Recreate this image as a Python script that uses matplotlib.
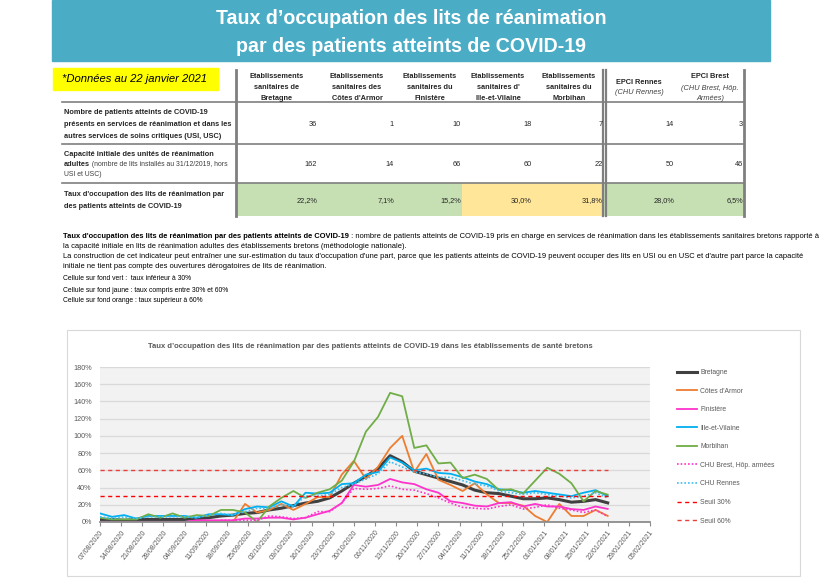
import matplotlib
matplotlib.use('Agg')
import matplotlib.pyplot as plt
import matplotlib.patches as patches
from matplotlib import font_manager
import pandas as pd

W, H = 820, 579

avail = {f.name for f in font_manager.fontManager.ttflist}
if 'Liberation Sans Narrow' in avail:
    NARROW, k = 'Liberation Sans Narrow', 1.0
else:
    NARROW, k = 'Liberation Sans', 0.84
plt.rcParams['font.family'] = [NARROW, 'DejaVu Sans']

# ---- table data (22/01/2021)
columns = [
    ['Etablissements', 'sanitaires de', 'Bretagne'],
    ['Etablissements', 'sanitaires des', "Côtes d'Armor"],
    ['Etablissements', 'sanitaires du', 'Finistère'],
    ['Etablissements', "sanitaires d'", 'Ille-et-Vilaine'],
    ['Etablissements', 'sanitaires du', 'Morbihan'],
]
patients = [36, 1, 10, 18, 7, 14, 3]
capacite = [162, 14, 66, 60, 22, 50, 46]
taux = [22.2, 7.1, 15.2, 30.0, 31.8, 28.0, 6.5]

# ---- chart data (one reading every 4 days from 07/08/2020)
sample_dates = pd.date_range('2020-08-07', '2021-01-22', freq='4D')
bretagne = [3, 3, 2, 3, 3, 3, 3, 3, 4, 5, 7, 8, 10, 11, 14, 16, 19, 22, 24, 28,
            36, 45, 53, 62, 77, 70, 59, 55, 51, 47, 43, 37, 34, 33, 30, 27, 27, 28, 26, 23,
            24, 26, 22.2]
cotes = [0, 0, 0, 0, 0, 0, 0, 0, 0, 0, 0, 0, 21, 11, 14, 21, 14, 21, 29, 29,
         55, 71, 50, 64, 86, 100, 58, 79, 49, 43, 36, 45, 32, 22, 22, 19, 7, 0, 21, 7,
         7, 14, 7.1]
finistere = [0, 0, 0, 0, 0, 0, 0, 0, 2, 2, 2, 2, 4, 4, 5, 5, 3, 5, 9, 13,
             22, 43, 41, 43, 50, 46, 44, 38, 34, 24, 22, 19, 18, 22, 23, 18, 21, 18, 18, 15,
             14, 18, 15.2]
ille = [10, 6, 8, 4, 7, 7, 7, 7, 5, 9, 9, 8, 15, 18, 17, 24, 18, 34, 33, 34,
        44, 45, 55, 58, 75, 69, 60, 62, 57, 56, 52, 47, 44, 38, 37, 34, 36, 34, 32, 30,
        34, 37, 30.0]
morbihan = [5, 3, 3, 3, 9, 5, 10, 5, 8, 7, 14, 14, 11, 0, 18, 28, 36, 28, 34, 38,
            48, 70, 105, 122, 150, 146, 86, 89, 68, 69, 51, 55, 50, 37, 38, 33, 48, 63, 56, 45,
            24, 36, 31.8]
chu_brest = [0, 0, 0, 0, 0, 0, 0, 0, 0, 0, 2, 2, 2, 2, 7, 6, 4, 5, 12, 12,
             22, 39, 38, 39, 42, 38, 37, 33, 28, 22, 17, 16, 15, 18, 20, 15, 17, 20, 16, 14,
             11, 14, 6.5]
chu_rennes = [6, 4, 6, 4, 6, 6, 6, 6, 5, 8, 10, 8, 12, 16, 16, 20, 18, 30, 30, 32,
              40, 44, 50, 56, 70, 64, 58, 56, 52, 52, 48, 44, 42, 36, 34, 32, 34, 32, 30, 28,
              30, 34, 28.0]
tick_labels = ['07/08/2020', '14/08/2020', '21/08/2020', '28/08/2020', '04/09/2020',
               '11/09/2020', '18/09/2020', '25/09/2020', '02/10/2020', '09/10/2020',
               '16/10/2020', '23/10/2020', '30/10/2020', '06/11/2020', '13/11/2020',
               '20/11/2020', '27/11/2020', '04/12/2020', '11/12/2020', '18/12/2020',
               '25/12/2020', '01/01/2021', '08/01/2021', '15/01/2021', '22/01/2021',
               '29/01/2021', '05/02/2021']

fig = plt.figure(figsize=(8.2, 5.79), dpi=100)
bg = fig.add_axes([0, 0, 1, 1])
bg.set_xlim(0, W)
bg.set_ylim(H, 0)
bg.axis('off')

# banner
bg.add_patch(patches.Rectangle((52, 0), 718, 61, color='#4BACC6'))
bg.text(411, 19, 'Taux d’occupation des lits de réanimation', color='white',
        fontsize=16.8 * k, fontweight='bold', ha='center', va='center')
bg.text(411, 46, 'par des patients atteints de COVID-19', color='white',
        fontsize=16.8 * k, fontweight='bold', ha='center', va='center')

# date box
bg.add_patch(patches.Rectangle((53, 68), 165, 22, color='#FFFF00'))
bg.text(62, 79.5, '*Données au 22 janvier 2021', family='Liberation Sans',
        style='italic', fontsize=8.1, ha='left', va='center')

# table
edges = [236, 317, 397, 462, 533, 604, 675, 744]
for i, t in enumerate(taux):
    c = '#C6E0B4' if t < 30 else ('#FFE699' if t < 60 else '#F8CBAD')
    bg.add_patch(patches.Rectangle((edges[i], 183), edges[i + 1] - edges[i], 33, color=c, lw=0))

for y in [102, 144, 183]:
    bg.plot([62, 744], [y, y], color='#7F7F7F', lw=1.2)
for x in [236, 603, 606, 744]:
    bg.plot([x, x], [70, 216], color='#7F7F7F', lw=1.6 if x in (603, 606) else 2)

fs = 6.3 * k
centers = [277, 357, 430, 498, 569]
for cx, lines in zip(centers, columns):
    for j, s in enumerate(lines):
        bg.text(cx, 77 + j * 10.7, s, fontsize=fs, fontweight='bold', ha='center',
                va='center', color='#262626')
bg.text(639, 82, 'EPCI Rennes', fontsize=fs, fontweight='bold', ha='center', va='center', color='#262626')
bg.text(639, 93, '(CHU Rennes)', fontsize=fs, style='italic', ha='center', va='center', color='#404040')
bg.text(710, 77, 'EPCI Brest', fontsize=fs, fontweight='bold', ha='center', va='center', color='#262626')
bg.text(710, 88, '(CHU Brest, Hôp.', fontsize=fs, style='italic', ha='center', va='center', color='#404040')
bg.text(710, 98.5, 'Armées)', fontsize=fs, style='italic', ha='center', va='center', color='#404040')

row1 = ['Nombre de patients atteints de COVID-19',
        'présents en services de réanimation et dans les',
        'autres services de soins critiques (USI, USC)']
for j, s in enumerate(row1):
    bg.text(64, 113 + j * 11.5, s, fontsize=fs, fontweight='bold', va='center', color='#262626')
bg.text(64, 154, 'Capacité initiale des unités de réanimation', fontsize=fs,
        fontweight='bold', va='center', color='#262626')
t = bg.text(64, 164, 'adultes', fontsize=fs, fontweight='bold', va='center', color='#262626')
bg.annotate(' (nombre de lits installés au 31/12/2019, hors', xy=(1, 0.5), xycoords=t,
            fontsize=5.9 * k, va='center', color='#404040')
bg.text(64, 174.5, 'USI et USC)', fontsize=5.9 * k, va='center', color='#404040')
bg.text(64, 195, "Taux d'occupation des lits de réanimation par", fontsize=fs,
        fontweight='bold', va='center', color='#262626')
bg.text(64, 206, 'des patients atteints de COVID-19', fontsize=fs,
        fontweight='bold', va='center', color='#262626')

right_x = [317, 394, 461, 532, 603, 674, 743]
for i in range(7):
    bg.text(right_x[i], 124.5, str(patients[i]), fontsize=fs, ha='right', va='center', color='#262626')
    bg.text(right_x[i], 164, str(capacite[i]), fontsize=fs, ha='right', va='center', color='#262626')
    bg.text(right_x[i], 201, f'{taux[i]:.1f}%'.replace('.', ','), fontsize=fs,
            ha='right', va='center', color='#262626')

# notes
pfs = 6.4 * k
t = bg.text(63, 237, "Taux d'occupation des lits de réanimation par des patients atteints de COVID-19",
            fontsize=pfs, fontweight='bold', va='center')
bg.annotate(' : nombre de patients atteints de COVID-19 pris en charge en services de réanimation '
            'dans les établissements sanitaires bretons rapporté à', xy=(1, 0.5), xycoords=t,
            fontsize=pfs, va='center')
notes = [(247, 'la capacité initiale en lits de réanimation adultes des établissements bretons (méthodologie nationale).'),
         (257, "La construction de cet indicateur peut entraîner une sur-estimation du taux d'occupation d'une part, "
               "parce que les patients atteints de COVID-19 peuvent occuper des lits en USI ou en USC et d'autre part "
               "parce la capacité"),
         (266.5, 'initiale ne tient pas compte des ouvertures dérogatoires de lits de réanimation.')]
for y, s in notes:
    bg.text(63, y, s, fontsize=pfs, va='center')
small = [(279, 'Cellule sur fond vert :  taux inférieur à 30%'),
         (290, 'Cellule sur fond jaune : taux compris entre 30% et 60%'),
         (300.5, 'Cellule sur fond orange : taux supérieur à 60%')]
for y, s in small:
    bg.text(63, y, s, fontsize=5.8 * k, va='center')

# chart frame + title
bg.add_patch(patches.Rectangle((67, 330), 733, 246, fill=False, edgecolor='#D9D9D9', lw=0.8))
bg.text(370, 346, 'Taux d’occupation des lits de réanimation par des patients atteints de COVID-19 '
        'dans les établissements de santé bretons', fontsize=6.5 * k, fontweight='bold',
        ha='center', va='center', color='#595959')

ax = fig.add_axes([100 / W, (H - 522) / H, 550 / W, 155 / H])
ax.set_facecolor('#F2F2F2')
ax.plot(sample_dates, bretagne, color='#404040', lw=2.2, label='Bretagne')
ax.plot(sample_dates, cotes, color='#ED7D31', lw=1.3, label="Côtes d'Armor")
ax.plot(sample_dates, finistere, color='#FF33CC', lw=1.3, label='Finistère')
ax.plot(sample_dates, ille, color='#00B0F0', lw=1.3, label='Ille-et-Vilaine')
ax.plot(sample_dates, morbihan, color='#70AD47', lw=1.3, label='Morbihan')
ax.plot(sample_dates, chu_brest, color='#FF33CC', lw=1.2, ls=(0, (1, 1.2)), label='CHU Brest, Hôp. armées')
ax.plot(sample_dates, chu_rennes, color='#3FBEF0', lw=1.2, ls=(0, (1, 1.2)), label='CHU Rennes')
ax.plot(sample_dates, [30] * len(sample_dates), color='#FF0000', lw=1.0, ls=(0, (3, 2.5)), label='Seuil 30%')
ax.plot(sample_dates, [60] * len(sample_dates), color='#E8403C', lw=1.0, ls=(0, (3, 2.5)), label='Seuil 60%')

ticks = pd.to_datetime(tick_labels, dayfirst=True)
ax.set_xlim(ticks[0], ticks[-1])
ax.set_ylim(0, 180)
ax.set_xticks(ticks)
ax.set_xticklabels(tick_labels, rotation=52, ha='right', rotation_mode='anchor',
                   fontsize=6 * k, color='#595959')
ax.set_yticks(range(0, 181, 20))
ax.set_yticklabels([f'{v}%' for v in range(0, 181, 20)], fontsize=6.2 * k, color='#595959')
ax.grid(axis='y', color='#D9D9D9', lw=0.9)
ax.set_axisbelow(True)
for s in ['top', 'right', 'left']:
    ax.spines[s].set_visible(False)
ax.spines['bottom'].set_color('#8C8C8C')
ax.spines['bottom'].set_linewidth(1.3)
ax.tick_params(axis='x', length=3, color='#8C8C8C', pad=2)
ax.tick_params(axis='y', length=0, pad=6)

ax.legend(loc='upper left', bbox_to_anchor=(677 / W, 1 - 369 / H), bbox_transform=fig.transFigure,
          frameon=False, fontsize=5.8 * k, handlelength=2.9, handletextpad=0.5,
          labelspacing=1.71, borderpad=0, borderaxespad=0, labelcolor='#595959')

fig.savefig('out.png', dpi=100)
